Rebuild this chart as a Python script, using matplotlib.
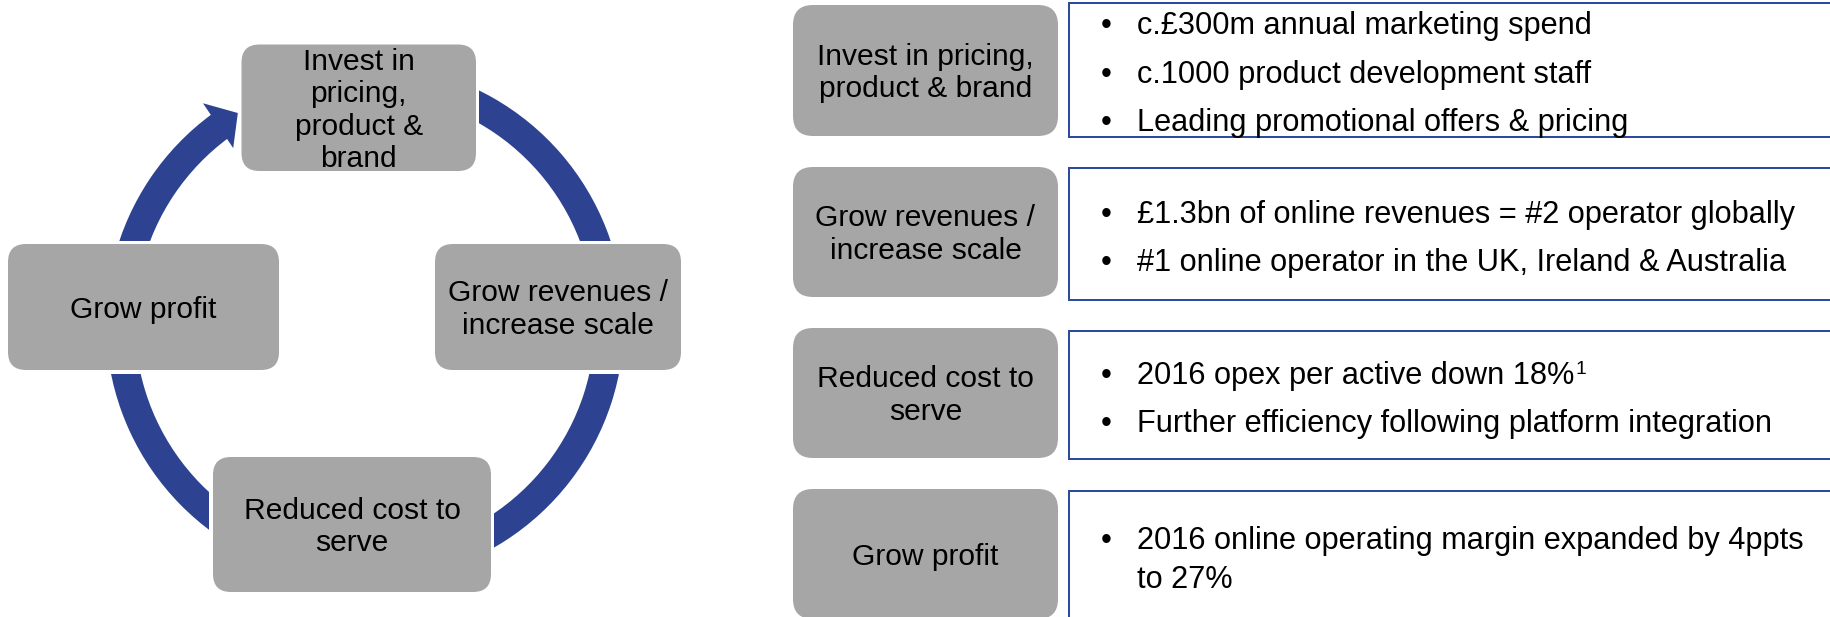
import matplotlib
matplotlib.use("Agg")
import matplotlib.pyplot as plt
from matplotlib.patches import FancyBboxPatch, Rectangle, Wedge, Polygon
import numpy as np

# ---------------- content ----------------
cycle_labels = [
    ["Invest in", "pricing,", "product &", "brand"],
    ["Grow revenues /", "increase scale"],
    ["Reduced cost to", "serve"],
    ["Grow profit"],
]
row_labels = [
    ["Invest in pricing,", "product & brand"],
    ["Grow revenues /", "increase scale"],
    ["Reduced cost to", "serve"],
    ["Grow profit"],
]
row_bullets = [
    [["c.£300m annual marketing spend"],
     ["c.1000 product development staff"],
     ["Leading promotional offers & pricing"]],
    [["£1.3bn of online revenues = #2 operator globally"],
     ["#1 online operator in the UK, Ireland & Australia"]],
    [["2016 opex per active down 18%"],
     ["Further efficiency following platform integration"]],
    [["2016 online operating margin expanded by 4ppts", "to 27%"]],
]
row_superscripts = [[None, None, None], [None, None], ["1", None], [None]]

# ---------------- style ----------------
W, H = 1831, 617
DPI = 100
GRAY = "#A6A6A6"
BLUE = "#2D4290"
EDGE = "#2E4A9A"
FONT = ["Liberation Sans", "DejaVu Sans"]
PX = 72.0 / DPI
FS = 30 * PX          # labels in boxes
FSB = 30.8 * PX       # bullet text

fig = plt.figure(figsize=(W / DPI, H / DPI), dpi=DPI)
ax = fig.add_axes([0, 0, 1, 1])
ax.set_xlim(0, W)
ax.set_ylim(H, 0)
ax.axis("off")

def txt(x, ycap, s, ha="center", size=FS, **kw):
    cap = 0.716 * size / PX
    return ax.text(x, ycap + cap / 2, s, ha=ha, va="baseline", fontsize=size,
                   family=FONT, color="black", zorder=10, **kw)

def rbox(x0, y0, x1, y1, r=18, color=GRAY, z=5):
    p = FancyBboxPatch((x0, y0), x1 - x0, y1 - y0,
                       boxstyle=f"round,pad=0,rounding_size={r}",
                       fc=color, ec="none", zorder=z)
    ax.add_patch(p)

# ---------------- left: cycle diagram ----------------
cx, cy = 365, 323
r_out, ring_w = 259, 29

# ring (angles in screen sense: y axis is inverted)
ax.add_patch(Wedge((cx, cy), r_out, -80, 233.6, width=ring_w,
                   fc=BLUE, ec="none", zorder=1))

# boxes of cycle: (x0, y0, x1, y1)
cycle_boxes = [(241.5, 44.5, 476, 171), (435, 244, 681, 370),
               (213, 457, 491, 592), (8, 244, 279, 370)]
pad = 3.5
for (x0, y0, x1, y1) in cycle_boxes:
    ax.add_patch(Rectangle((x0 - pad, y0 - pad), x1 - x0 + 2 * pad,
                           y1 - y0 + 2 * pad, fc="white", ec="none", zorder=2))
    rbox(x0, y0, x1, y1, r=18)

# arrow head
def polar(theta_deg, r):
    t = np.deg2rad(theta_deg)
    return (cx + r * np.cos(t), cy - r * np.sin(t))

head = [polar(126.4, 273), polar(121.2, 245.5), polar(127.0, 219)]
ax.add_patch(Polygon(head, closed=True, fc=BLUE, ec="none", zorder=3))

line_gap = 32.5
for (x0, y0, x1, y1), lines in zip(cycle_boxes, cycle_labels):
    xc = (x0 + x1) / 2
    yc = (y0 + y1) / 2
    n = len(lines)
    for i, s in enumerate(lines):
        txt(xc, yc + (i - (n - 1) / 2) * line_gap, s)

# ---------------- right: table ----------------
gray_x = (793, 1058)
gray_y = [(5, 136), (167, 297), (328, 458), (489, 619)]
white_x0 = 1069
white_y = [(3, 137), (168, 300), (331, 459), (491, 660)]
bullet_caps = [[23, 72, 120], [212, 260], [373, 421], [538]]
wrap_gap = 39
bullet_x, text_x = 1106, 1137

renderer = fig.canvas.get_renderer()
inv = ax.transData.inverted()

for k in range(4):
    gy0, gy1 = gray_y[k]
    rbox(gray_x[0], gy0, gray_x[1], gy1, r=20)
    wy0, wy1 = white_y[k]
    ax.add_patch(Rectangle((white_x0, wy0), W + 20 - white_x0, wy1 - wy0,
                           fc="white", ec=EDGE, lw=2 * PX, zorder=4))
    xc = sum(gray_x) / 2
    yc = (gy0 + gy1) / 2
    lines = row_labels[k]
    n = len(lines)
    for i, s in enumerate(lines):
        txt(xc, yc + (i - (n - 1) / 2) * line_gap, s)
    for j, para in enumerate(row_bullets[k]):
        yb = bullet_caps[k][j]
        txt(bullet_x, yb, "•", ha="center", size=FSB)
        for li, s in enumerate(para):
            t = txt(text_x, yb + li * wrap_gap, s, ha="left", size=FSB)
            sup = row_superscripts[k][j]
            if sup and li == 0:
                bb = t.get_window_extent(renderer)
                xe, _ = inv.transform((bb.x1, bb.y0))
                ax.text(xe + 1, yb - 0.716 * 30.8 / 2 - 1, sup, ha="left",
                        va="top", fontsize=FSB * 0.62, family=FONT,
                        color="black", zorder=10)

fig.savefig("out.png", dpi=DPI)
